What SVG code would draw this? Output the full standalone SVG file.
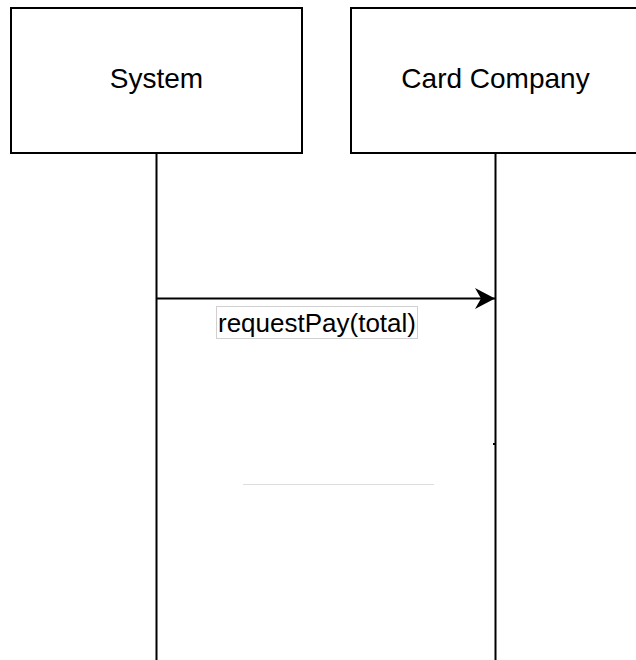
<svg xmlns="http://www.w3.org/2000/svg" width="636" height="660" viewBox="0 0 636 660">
  <style>
    .box { fill: #ffffff; stroke: #000000; stroke-width: 2; }
    .life { stroke: #000000; stroke-width: 2; fill: none; }
    .msg { stroke: #000000; stroke-width: 2; fill: none; }
    .title { font-family: "Liberation Sans", Arial, sans-serif; font-size: 28px; fill: #000000; text-anchor: middle; }
    .lbl { font-family: "Liberation Sans", Arial, sans-serif; font-size: 26px; fill: #000000; text-anchor: middle; }
  </style>
  <defs>
    <marker id="arrow" markerUnits="userSpaceOnUse" markerWidth="22" markerHeight="24" viewBox="0 0 22 24" refX="20" refY="12" orient="auto">
      <path d="M0,1.5 L20,12 L0,22.5 L6,12 Z" fill="#000000"/>
    </marker>
  </defs>
  <rect width="636" height="660" fill="#ffffff"/>
  <g id="connectors">
    <line class="life" x1="156.5" y1="153" x2="156.5" y2="660"/>
    <line class="life" x1="495.5" y1="153" x2="495.5" y2="660"/>
    <line class="msg" x1="157" y1="298.5" x2="495" y2="298.5" marker-end="url(#arrow)"/>
    <rect x="493" y="443" width="2" height="2" fill="#000000"/>
    <line x1="243" y1="484.5" x2="434" y2="484.5" stroke="#dddddd" stroke-width="1"/>
  </g>
  <g id="node-system">
    <rect class="box" x="11" y="8" width="291" height="145"/>
    <text class="title" x="156.5" y="88">System</text>
  </g>
  <g id="node-card-company">
    <rect class="box" x="351" y="8" width="291" height="145"/>
    <text class="title" x="495.5" y="88">Card Company</text>
  </g>
  <g id="label-requestPay">
    <rect x="216.5" y="306.5" width="201" height="32" fill="#ffffff" stroke="#d0d0d0" stroke-width="1"/>
    <text class="lbl" x="317" y="332">requestPay(total)</text>
  </g>
</svg>
